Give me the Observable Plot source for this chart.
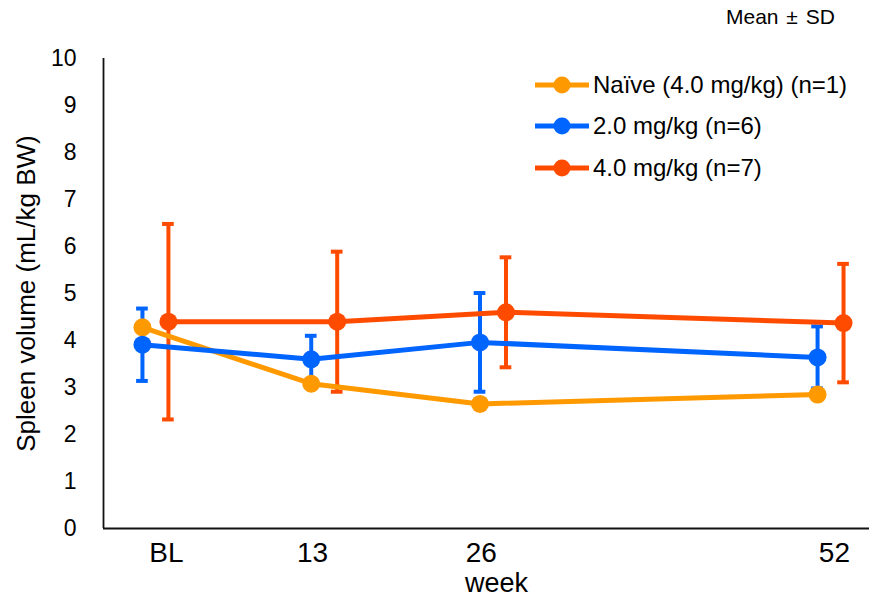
<!DOCTYPE html>
<html>
<head>
<meta charset="utf-8">
<script src="https://cdn.jsdelivr.net/npm/d3@7"></script>
<script src="https://cdn.jsdelivr.net/npm/@observablehq/plot@0.6"></script>
<style>
  html, body { margin: 0; padding: 0; background: #fff; }
  #wrap { position: relative; width: 876px; height: 603px; font-family: "Liberation Sans", Arial, sans-serif; }
  #note { position: absolute; left: 726px; top: 5px; font-size: 21px; color: #000; word-spacing: 2px; }
  #legend { position: absolute; left: 534px; top: 64px; font-size: 24px; color: #000; }
  .item { display: flex; align-items: center; height: 41.5px; }
  .item svg { margin-right: 3px; }
</style>
</head>
<body>
<div id="wrap">
  <div id="chart"></div>
  <div id="note">Mean ± SD</div>
  <div id="legend"></div>
</div>
<script>
// ---- data ----
const weeks = [0, 13, 26, 52];
const weekLabels = ["BL", "13", "26", "52"];
const weekLabelAt = [1.85, 13.1, 26.1, 53.3];
const yTicks = [0, 1, 2, 3, 4, 5, 6, 7, 8, 9, 10];

const seriesNames = ["Naïve (4.0 mg/kg) (n=1)", "2.0 mg/kg (n=6)", "4.0 mg/kg (n=7)"];
const seriesColors = ["#FF9900", "#0064FF", "#FF4B00"];
const seriesOffset = [0, 0, 2];

const naiveMean = [4.28, 3.08, 2.65, 2.85];
const naiveSD   = [null, null, null, null];
const dose2Mean = [3.91, 3.60, 3.96, 3.64];
const dose2SD   = [0.77, 0.50, 1.05, 0.66];
const dose4Mean = [4.40, 4.40, 4.60, 4.37];
const dose4SD   = [2.08, 1.49, 1.17, 1.26];

const means = [naiveMean, dose2Mean, dose4Mean];
const sds = [naiveSD, dose2SD, dose4SD];

// ---- table ----
const rows = [];
seriesNames.forEach((name, s) => {
  weeks.forEach((w, i) => {
    rows.push({ s, name, x: w + seriesOffset[s], mean: means[s][i], sd: sds[s][i] });
  });
});
const errRows = rows.filter(d => d.sd != null);
const capHalf = 0.45;

const font = '"Liberation Sans", Arial, sans-serif';
const color = d => seriesColors[d.s];

const chart = Plot.plot({
  width: 876,
  height: 603,
  marginLeft: 103,
  marginRight: 7,
  marginTop: 58,
  marginBottom: 75,
  style: { fontFamily: font, background: "#fff", color: "#000" },
  x: { domain: [-3, 56] },
  y: { domain: [0, 10] },
  marks: [
    Plot.axisY({ ticks: yTicks, tickSize: 0, tickPadding: 27, fontSize: 23, label: null }),
    Plot.axisX({ ticks: weekLabelAt, tickFormat: (d, i) => weekLabels[i], tickSize: 0, tickPadding: 14, fontSize: 28, label: null }),
    Plot.ruleY([0], { stroke: "#111", strokeWidth: 1.8 }),
    Plot.ruleX([-3], { stroke: "#111", strokeWidth: 1.8 }),
    Plot.text(["Spleen volume (mL/kg BW)"], { frameAnchor: "left", textAnchor: "middle", rotate: -90, dx: -77, fontSize: 26, fill: "#000" }),
    Plot.text(["week"], { frameAnchor: "bottom", dx: 10, dy: 63, fontSize: 27, fill: "#000" }),
    // error bars
    Plot.ruleX(errRows, { x: "x", y1: d => d.mean - d.sd, y2: d => d.mean + d.sd, stroke: color, strokeWidth: 4 }),
    Plot.ruleY(errRows, { y: d => d.mean + d.sd, x1: d => d.x - capHalf, x2: d => d.x + capHalf, stroke: color, strokeWidth: 4 }),
    Plot.ruleY(errRows, { y: d => d.mean - d.sd, x1: d => d.x - capHalf, x2: d => d.x + capHalf, stroke: color, strokeWidth: 4 }),
    // lines
    ...seriesNames.map((n, s) => Plot.line(rows.filter(d => d.s === s), { x: "x", y: "mean", stroke: seriesColors[s], strokeWidth: 5 })),
    // dots
    ...seriesNames.map((n, s) => Plot.dot(rows.filter(d => d.s === s), { x: "x", y: "mean", r: 9, fill: seriesColors[s], stroke: "none" }))
  ]
});
document.getElementById("chart").appendChild(chart);

// legend
const leg = document.getElementById("legend");
seriesNames.forEach((name, s) => {
  const item = document.createElement("div");
  item.className = "item";
  item.innerHTML = `<svg width="56" height="20"><line x1="1" x2="55" y1="10" y2="10" stroke="${seriesColors[s]}" stroke-width="5"/><circle cx="28" cy="10" r="8.5" fill="${seriesColors[s]}"/></svg><span>${name}</span>`;
  leg.appendChild(item);
});
</script>
</body>
</html>
